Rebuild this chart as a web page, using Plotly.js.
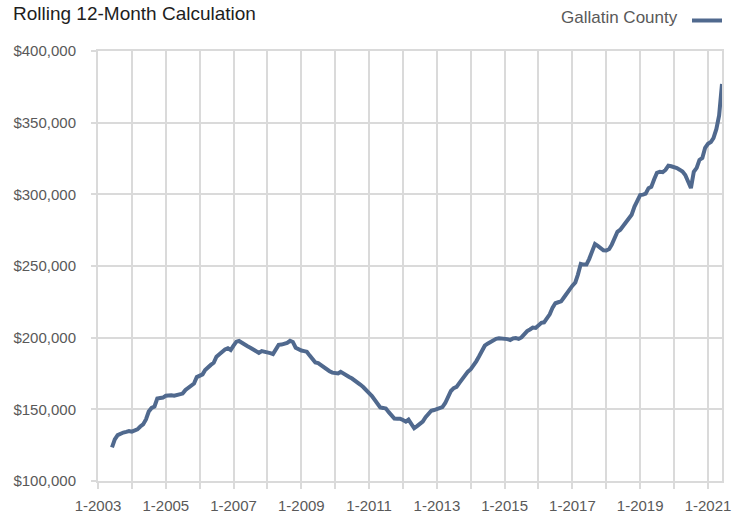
<!DOCTYPE html>
<html>
<head>
<meta charset="utf-8">
<script src="https://cdn.plot.ly/plotly-3.0.1.min.js"></script>
<style>html,body{margin:0;padding:0;background:#fff}#chart{width:743px;height:515px}</style>
</head>
<body>
<div id="chart"></div>
<script>
// Median price, rolling 12-month, in thousands of dollars; monthly from 6-2003
const startYear = 2003, startMonth = 6;
const v2003 = [123.5,129,132,133.2,133.8,134.3,134.9];
const v2004 = [134.4,135.2,136,138,139.5,143,148.5,151,152,157.5,158,158.2];
const v2005 = [159.5,160,159.8,159.5,160,160.6,161,163.5,165,165.8,168,172.5];
const v2006 = [173.6,174.4,177.5,179.8,181,182.5,186.7,188.5,190.2,191.8,192.6,191.4];
const v2007 = [194.5,197.2,197.7,196.2,195,194,193,191.9,190.5,189.3,190.6,190.3];
const v2008 = [189.7,189.2,188.6,192,195,195.2,195.5,196.4,197.8,197,193,191.6];
const v2009 = [191,190.6,190.2,187.5,185,182.7,182.2,180.7,179.3,177.5,176.6,175.6];
const v2010 = [175,175,176.2,174.7,173.6,172.6,171.5,170.2,168.8,167.1,165.4,163];
const v2011 = [161.3,159.3,156.8,154,151.3,151,150.5,148,145.8,143.6,143.4,143.5];
const v2012 = [142.5,141.4,142.8,139,136.8,138.3,139.6,141.5,144.5,147.2,149,149.5];
const v2013 = [150,150.6,151.6,154.4,159.5,162.8,164.8,165.7,168.5,171.3,174.5,176.3];
const v2014 = [178,180.5,183.5,187,191,194.4,195.8,197,198.4,199.2,199.6,199.5];
const v2015 = [199.5,199,198.4,199.5,199.7,199.1,200.2,202.5,204.6,205.7,207,206.8];
const v2016 = [208.5,210.4,210.7,214,216.3,221,224,224.7,225.3,228,230.3,233.5];
const v2017 = [236.3,238.5,244,251.5,251,251,255,260,265.3,264,262.3,261];
const v2018 = [260.8,261.8,264.9,269.6,273.9,275.3,278,281,283,285.8,291.5,296];
const v2019 = [299.5,299.8,300.5,304.3,305.2,310.5,315,315.8,315.5,317,320,319.6];
const v2020 = [319.2,318.3,317.2,315.9,313.5,308,304.4,315.8,318.5,324,325.4,332.5];
const v2021 = [335.3,336.5,339.2,345.5,355,377];
const seriesName = "Gallatin County";
const yTicks = [100000,150000,200000,250000,300000,350000,400000];

const valuesK = [].concat(v2003,v2004,v2005,v2006,v2007,v2008,v2009,v2010,v2011,v2012,v2013,v2014,v2015,v2016,v2017,v2018,v2019,v2020,v2021);
const dates = valuesK.map((_, i) => {
  const m0 = startMonth - 1 + i;
  const y = startYear + Math.floor(m0 / 12);
  const m = (m0 % 12) + 1;
  return y + "-" + String(m).padStart(2, "0") + "-01";
});
const values = valuesK.map(v => v * 1000);

const grid = "#dadada";
const font = "Liberation Sans, Arial, sans-serif";
const lineColor = "#50698e";

const trace = {
  x: dates, y: values, type: "scatter", mode: "lines",
  name: seriesName, showlegend: false, hoverinfo: "skip",
  line: {color: lineColor, width: 4}
};

const layout = {
  width: 743, height: 515,
  margin: {l: 98, r: 21, t: 51, b: 34},
  paper_bgcolor: "#fff", plot_bgcolor: "#fff",
  font: {family: font, color: "#595959", size: 15},
  title: {text: "Rolling 12-Month Calculation", xref: "container", yref: "container",
          x: 13/743, xanchor: "left", y: 1 - 13/515, yanchor: "middle",
          font: {family: font, size: 19, color: "#1e1e1e"}},
  xaxis: {
    type: "date", range: ["2003-01-01", "2021-06-01"],
    tick0: "2003-01-01", dtick: "M24", tickformat: "%-m-%Y",
    ticks: "outside", ticklen: 6, tickwidth: 2, tickcolor: grid,
    showgrid: true, gridcolor: grid, gridwidth: 2,
    minor: {tick0: "2003-01-01", dtick: "M12", ticks: "outside", ticklen: 6, tickwidth: 2, tickcolor: grid,
            showgrid: true, gridcolor: grid, gridwidth: 2},
    showline: true, mirror: true, linecolor: grid, linewidth: 2,
    zeroline: false, fixedrange: true,
    tickfont: {family: font, size: 15, color: "#595959"},
    ticklabelstandoff: 4
  },
  yaxis: {
    range: [100000, 400000], tickvals: yTicks, tickformat: "$,.0f",
    ticks: "outside", ticklen: 5, tickwidth: 2, tickcolor: grid,
    showgrid: true, gridcolor: grid, gridwidth: 2,
    showline: true, mirror: true, linecolor: grid, linewidth: 2,
    zeroline: false, fixedrange: true,
    tickfont: {family: font, size: 15, color: "#595959"},
    ticklabelstandoff: 12
  },
  annotations: [{
    text: seriesName, xref: "paper", yref: "paper",
    x: (680 - 98) / 624, y: (481 - 18) / 430, xanchor: "right", yanchor: "middle",
    showarrow: false, font: {family: font, size: 17, color: "#595959"}
  }],
  shapes: [{
    type: "line", xref: "paper", yref: "paper",
    x0: (692 - 98) / 624, x1: 1.0, y0: (481 - 20.5) / 430, y1: (481 - 20.5) / 430,
    line: {color: lineColor, width: 4}
  }]
};

Plotly.newPlot("chart", [trace], layout, {displayModeBar: false, staticPlot: true});
</script>
</body>
</html>
